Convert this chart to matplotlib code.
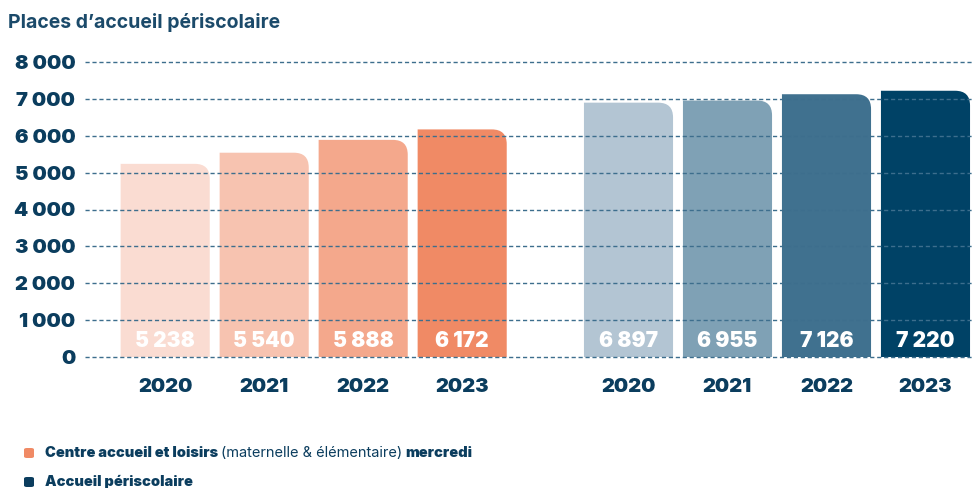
import matplotlib.pyplot as plt
from matplotlib.path import Path
from matplotlib.patches import PathPatch, FancyBboxPatch

# données
annees = ["2020", "2021", "2022", "2023"]
centre_loisirs = [5238, 5540, 5888, 6172]
accueil_peri = [6897, 6955, 7126, 7220]
couleurs_centre = ["#fadcd2", "#f7c3b0", "#f4a88c", "#f08a65"]
couleurs_peri = ["#b3c5d3", "#7fa1b5", "#40718f", "#004266"]
graduations = [0, 1000, 2000, 3000, 4000, 5000, 6000, 7000, 8000]

navy = "#0b3d5e"
plt.rcParams['font.family'] = ['Inter', 'DejaVu Sans']


def fmt(v):
    return f"{v:,}".replace(",", " ")


def round_top_right(ax, rect, color):
    # barre avec seulement le coin haut-droit arrondi
    x0, y0 = rect.get_x(), rect.get_y()
    x1, y1 = x0 + rect.get_width(), y0 + rect.get_height()
    rx, ry = 0.15, 400
    verts = [(x0, y0), (x0, y1), (x1 - rx, y1), (x1, y1), (x1, y1 - ry),
             (x1, y0), (x0, y0)]
    codes = [Path.MOVETO, Path.LINETO, Path.LINETO, Path.CURVE3, Path.CURVE3,
             Path.LINETO, Path.CLOSEPOLY]
    rect.remove()
    ax.add_patch(PathPatch(Path(verts, codes), facecolor=color,
                           edgecolor='none', zorder=2))


fig = plt.figure(figsize=(9.74, 4.88), dpi=100)
ax = fig.add_axes([85 / 974, 1 - 357 / 488, 1 - 85 / 974, (357 - 62) / 488])

pos_centre = [0, 1, 2, 3]
pos_peri = [4.68, 5.68, 6.68, 7.68]

for pos, vals, cols in [(pos_centre, centre_loisirs, couleurs_centre),
                        (pos_peri, accueil_peri, couleurs_peri)]:
    bars = ax.bar(pos, vals, width=0.9, color=cols)
    for b, v, c in zip(bars, vals, cols):
        round_top_right(ax, b, c)
        ax.text(b.get_x() + b.get_width() / 2, 440, fmt(v), ha='center',
                va='center', color='white', fontsize=15, fontweight='black',
                zorder=4)

for g in graduations:
    ax.axhline(g, color="#3d6e8d", lw=1, ls=(0, (3, 2)), zorder=3,
               clip_on=False)

ax.set_xlim(-0.81, 8.17)
ax.set_ylim(0, 8000)
ax.set_yticks(graduations, [fmt(g) for g in graduations])
ax.set_xticks(pos_centre + pos_peri, annees + annees)
ax.tick_params(axis='y', length=0, pad=7, labelsize=14.5, labelcolor=navy)
ax.tick_params(axis='x', length=0, pad=15, labelsize=14.5, labelcolor=navy)
for lab in ax.get_yticklabels() + ax.get_xticklabels():
    lab.set_fontweight('black')
for s in ax.spines.values():
    s.set_visible(False)

fig.text(8 / 974, 1 - 22 / 488, "Places d\u2019accueil périscolaire",
         fontsize=14, fontweight='bold', color="#1b4a6a", va='center')

# légende
fig.patches.append(FancyBboxPatch((24 / 974, 1 - 458 / 488), 10 / 974, 10 / 488,
                                  boxstyle="round,pad=0,rounding_size=0.003",
                                  transform=fig.transFigure,
                                  facecolor="#f08a65", edgecolor='none'))
fig.patches.append(FancyBboxPatch((24 / 974, 1 - 487 / 488), 10 / 974, 10 / 488,
                                  boxstyle="round,pad=0,rounding_size=0.003",
                                  transform=fig.transFigure,
                                  facecolor=navy, edgecolor='none'))
t1 = fig.text(45 / 974, 1 - 453 / 488, "Centre accueil et loisirs",
              fontsize=10.5, fontweight='black', color=navy, va='center')
t2 = fig.text(0, 0, "(maternelle & élémentaire)", fontsize=10.5,
              color=navy)
t3 = fig.text(0, 0, "mercredi", fontsize=10.5, fontweight='black', color=navy)
fig.canvas.draw()
r = fig.canvas.get_renderer()
gap = 3
bb1 = t1.get_window_extent(r)
t2.set_position(((bb1.x1 + gap) / fig.bbox.width, bb1.y0 / fig.bbox.height))
t2.set_va('bottom')
fig.canvas.draw()
bb2 = t2.get_window_extent(r)
t3.set_position(((bb2.x1 + gap) / fig.bbox.width, bb2.y0 / fig.bbox.height))
t3.set_va('bottom')
fig.text(45 / 974, 1 - 482 / 488, "Accueil périscolaire", fontsize=10.5,
         fontweight='black', color=navy, va='center')

fig.savefig("out.png", dpi=100)
